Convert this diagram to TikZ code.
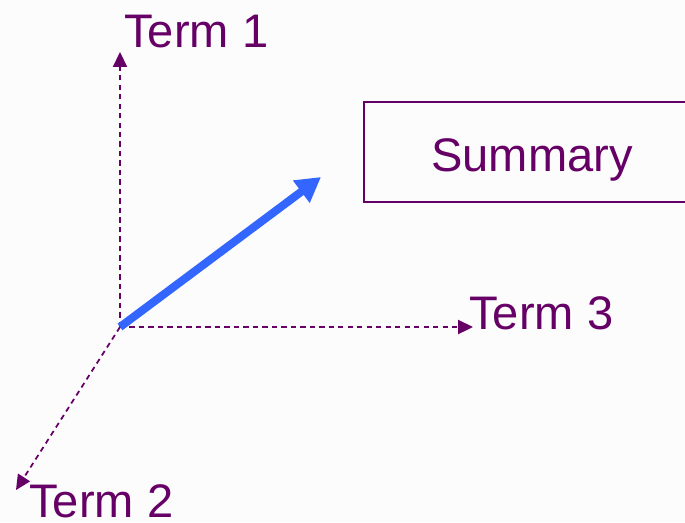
\documentclass[tikz,border=0pt]{standalone}
\usepackage{fontspec}
\setmainfont{Liberation Sans}
\usepackage{xcolor}
\usepackage{tikz}
\usetikzlibrary{positioning,arrows.meta}
\definecolor{TermPurple}{RGB}{102,0,102}
\definecolor{VecBlue}{RGB}{51,102,255}
\definecolor{PageGrey}{RGB}{252,252,252}

\begin{document}
\begin{tikzpicture}[
    x=0.02cm,
    y=-0.02cm,
    axis/.style={
        -{Triangle[length=8.5pt,width=8pt]},
        dashed,
        dash pattern=on 3pt off 2.4pt,
        line width=1pt,
        draw=TermPurple
    },
    vecarrow/.style={
        -{Triangle[length=14pt,width=15pt]},
        line width=4.6pt,
        draw=VecBlue
    },
    term/.style={
        anchor=base west,
        inner sep=0pt,
        text=TermPurple,
        font=\fontsize{26.8}{31}\selectfont
    },
    box/.style={
        rectangle,
        draw=TermPurple,
        line width=1.1pt,
        minimum width=6.72cm,
        minimum height=2cm,
        inner sep=0pt,
        text height=22.7pt,
        text depth=0pt,
        text=TermPurple,
        font=\fontsize{26.8}{31}\selectfont
    }
]

\clip (0,0) rectangle (685,522);
\fill[PageGrey] (0,0) rectangle (685,522);

\coordinate (origin) at (120,327);
\coordinate (tip1) at (120,52);
\coordinate (tip2) at (16,490);
\coordinate (tip3) at (473,327);
\coordinate (tipsum) at (321,177);

\node[term] (term1) at (124,47)
{Term 1};

\node[term] (term3) at (469,329)
{Term 3};

\node[term] (term2) at (29,517)
{Term 2};

\node[box] (summary) at (532,152)
{Summary};

\draw[axis]
(origin) -- (tip1);

\draw[axis]
(origin) -- (tip3);

\draw[axis]
(origin) -- (tip2);

\draw[vecarrow]
(origin) -- (tipsum);

\end{tikzpicture}
\end{document}
